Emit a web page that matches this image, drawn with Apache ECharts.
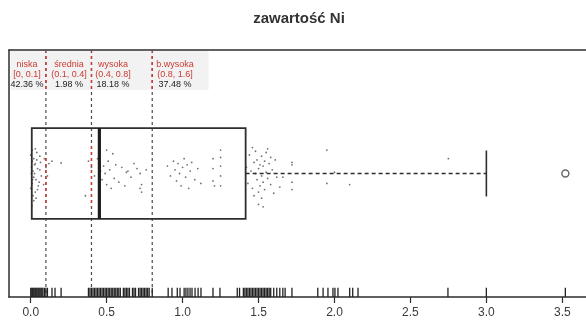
<!DOCTYPE html>
<html>
<head>
<meta charset="utf-8">
<script src="https://cdn.jsdelivr.net/npm/echarts@6/dist/echarts.min.js"></script>
<style>
  html, body { margin: 0; padding: 0; background: #fff; }
  #chart { width: 586px; height: 329px; }
</style>
</head>
<body>
<div id="chart"></div>
<script>
// ---- data ----
const chartTitle = 'zawartość Ni';
const tickValues = [0, 0.5, 1, 1.5, 2, 2.5, 3, 3.5];

const classNames = ['niska', 'średnia', 'wysoka', 'b.wysoka'];
const classRanges = ['[0, 0.1]', '(0.1, 0.4]', '(0.4, 0.8]', '(0.8, 1.6]'];
const classShares = [42.36, 1.98, 18.18, 37.48];
const classBreaks = [0.1, 0.4, 0.8];

// min, Q1, median, Q3, upper whisker end
const boxStats = [0.0, 0.007, 0.452, 1.415, 3.0];
const outliers = [3.52];

// distinct measured values (rug)
const rugValues = [
  0, 0.007, 0.013, 0.02, 0.027, 0.033, 0.04, 0.047, 0.053, 0.06, 0.067, 0.073, 0.08, 0.09, 0.1,
  0.11, 0.14, 0.16, 0.2,
  0.38, 0.39, 0.40, 0.41, 0.42, 0.43, 0.44, 0.45, 0.46, 0.47, 0.48,
  0.49, 0.50, 0.51, 0.52, 0.53, 0.54, 0.55, 0.56, 0.57, 0.58, 0.59,
  0.61, 0.62, 0.63, 0.64, 0.65, 0.67, 0.68, 0.69,
  0.71, 0.72, 0.73, 0.74, 0.75, 0.76, 0.77, 0.78,
  0.80, 0.905, 0.93, 0.965, 0.983, 1.01, 1.022, 1.035, 1.049, 1.062, 1.082, 1.102, 1.121,
  1.2, 1.246,
  1.36, 1.375, 1.40, 1.41, 1.42, 1.43, 1.44, 1.45, 1.46, 1.47, 1.48, 1.49, 1.50, 1.51,
  1.52, 1.53, 1.54, 1.55, 1.56, 1.57, 1.58, 1.60, 1.62,
  1.64, 1.66, 1.675, 1.72, 1.89, 1.925, 1.957, 1.99, 2.003, 2.023,
  2.10, 2.12, 2.155, 2.747, 3.0, 3.52
];

// observations with their vertical jitter
const jitterPoints = [
  [0.00, 0.15], [0.01, 0.10], [0.02, 0.12], [0.005, 0.05], [0.03, 0.08], [0.015, 0.02],
  [0.04, 0.11], [0.02, -0.03], [0.01, -0.08], [0.035, -0.05], [0.025, 0.00], [0.045, 0.04],
  [0.00, -0.12], [0.03, -0.15], [0.015, -0.18], [0.05, -0.10], [0.02, -0.22], [0.04, 0.17],
  [0.06, 0.03], [0.055, -0.07], [0.01, 0.19], [0.035, -0.20], [0.065, 0.09], [0.07, -0.02],
  [0.008, -0.26], [0.045, -0.13], [0.025, 0.07], [0.012, -0.05], [0.06, 0.14], [0.03, 0.20],
  [0.09, 0.12], [0.10, 0.05], [0.11, -0.02], [0.085, -0.09], [0.12, 0.08], [0.14, 0.10], [0.20, 0.085],
  [0.36, -0.18], [0.38, 0.10], [0.40, 0.05], [0.42, -0.02], [0.44, 0.12], [0.46, 0.02],
  [0.47, -0.05], [0.48, 0.06], [0.49, 0.00], [0.50, -0.09], [0.51, 0.10], [0.52, 0.03],
  [0.53, -0.12], [0.54, 0.16], [0.55, -0.04], [0.56, 0.07], [0.45, -0.15], [0.50, 0.19],
  [0.58, -0.07], [0.60, 0.05], [0.62, -0.10], [0.64, 0.02], [0.66, -0.03], [0.68, 0.08],
  [0.70, 0.04], [0.72, -0.12], [0.63, 0.01], [0.73, -0.09],
  [0.76, 0.03], [0.72, 0.00], [0.73, -0.15],
  [0.90, 0.06], [0.92, -0.02], [0.94, 0.10], [0.95, 0.03], [0.96, -0.06], [0.97, 0.08],
  [0.98, 0.00], [0.99, -0.10], [1.00, 0.05], [1.01, 0.12], [1.02, -0.03], [1.03, 0.07],
  [1.04, -0.12], [1.05, 0.02], [1.06, 0.09], [1.08, -0.05], [1.10, 0.04], [1.12, -0.08],
  [1.20, 0.12], [1.20, 0.04], [1.20, -0.06], [1.21, -0.10],
  [1.25, 0.19], [1.25, 0.13], [1.25, 0.06], [1.25, -0.02], [1.25, -0.10],
  [1.42, 0.05], [1.43, -0.08], [1.44, 0.15], [1.45, 0.02], [1.46, -0.12], [1.47, 0.09],
  [1.48, 0.00], [1.48, 0.18], [1.49, -0.05], [1.49, 0.11], [1.50, -0.15], [1.50, 0.04],
  [1.51, 0.07], [1.51, -0.10], [1.52, 0.14], [1.52, -0.02], [1.52, -0.20], [1.53, 0.06],
  [1.53, -0.07], [1.54, 0.10], [1.54, -0.13], [1.55, 0.01], [1.55, 0.17], [1.56, -0.04],
  [1.57, 0.08], [1.58, -0.09], [1.59, 0.03], [1.60, -0.16], [1.61, 0.11], [1.62, -0.03],
  [1.50, -0.25], [1.53, -0.27], [1.47, -0.18], [1.56, 0.20], [1.58, 0.13], [1.46, 0.21],
  [1.66, -0.03], [1.64, -0.11],
  [1.72, 0.09], [1.72, 0.07], [1.72, -0.07], [1.72, -0.13],
  [1.95, 0.19], [1.95, -0.08], [2.00, 0.01], [2.10, -0.09], [2.75, 0.12]
];

// ---- layout constants (y axis runs from -1 at the bottom to 1 at the top) ----
const BOX_HALF = 0.368;
const CAP_HALF = 0.186;
const RUG_LEN = 0.075;
const LABEL_CENTERS = [-0.024, 0.252, 0.542, 0.95];
const LABEL_ROWS = [0.879, 0.802, 0.722];
const RED_BANDS = { 0.1: [[0.984, 0.676], [0.15, -0.271]], 0.4: [[0.984, 0.676], [0.247, -0.271]], 0.8: [[0.984, 0.676]] };
const INK = '#2e2e2e';
const RED = '#cc3b33';
const FONT = '"Liberation Sans", Arial, sans-serif';

const chart = echarts.init(document.getElementById('chart'), null, { renderer: 'canvas' });

// frame: left, top and bottom edges only; the plot continues past the right edge
const frameLine = { show: true, onZero: false, lineStyle: { color: INK, width: 1.5 } };

chart.setOption({
  animation: false,
  backgroundColor: '#fff',
  graphic: [
    { type: 'rect', z: -1, shape: { x: 10.5, y: 51, width: 198, height: 39 }, style: { fill: '#f2f2f2' }, silent: true },
    { type: 'text', x: 299, y: 19, style: { text: chartTitle, font: 'bold 15px ' + FONT, fill: '#333', align: 'center', verticalAlign: 'middle' } }
  ],
  grid: { left: 9, top: 50, right: 0, height: 247, show: false },
  xAxis: [{
    type: 'value', min: -0.143, max: 3.656,
    axisLine: frameLine,
    axisTick: { show: true, customValues: tickValues, length: 6, inside: false, lineStyle: { color: INK, width: 1.2 } },
    axisLabel: { customValues: tickValues, formatter: v => v.toFixed(1), margin: 10, fontSize: 12, color: '#3a3a3a', fontFamily: FONT },
    splitLine: { show: false }
  }, {
    type: 'value', position: 'top', min: -0.143, max: 3.656,
    axisLine: frameLine, axisTick: { show: false }, axisLabel: { show: false }, splitLine: { show: false }
  }],
  yAxis: {
    type: 'value', min: -1, max: 1,
    axisLine: frameLine, axisTick: { show: false }, axisLabel: { show: false }, splitLine: { show: false }
  },
  series: [
    // class boundaries
    {
      type: 'custom', silent: true, z: 1,
      data: classBreaks.map(v => [v]),
      renderItem(params, api) {
        const v = api.value(0);
        const top = api.coord([v, 1]);
        const bot = api.coord([v, -1]);
        const children = [{
          type: 'line', shape: { x1: top[0], y1: top[1], x2: bot[0], y2: bot[1] },
          style: { stroke: '#4a4a4a', lineWidth: 1.2, lineDash: [3, 3] }
        }];
        (RED_BANDS[v] || []).forEach(([a, b]) => {
          const pa = api.coord([v, a]);
          const pb = api.coord([v, b]);
          children.push({
            type: 'line', shape: { x1: pa[0], y1: pa[1], x2: pb[0], y2: pb[1] },
            style: { stroke: RED, lineWidth: 1.4, lineDash: [3, 3], lineDashOffset: pa[1] - top[1] }
          });
        });
        return { type: 'group', children };
      }
    },
    // class labels and shares
    {
      type: 'custom', silent: true, z: 3,
      data: classNames.map((n, i) => [LABEL_CENTERS[i], i]),
      renderItem(params, api) {
        const i = api.value(1);
        const x = api.coord([api.value(0), 0])[0];
        const rows = [
          [classNames[i], RED], [classRanges[i], RED], [classShares[i].toFixed(2) + ' %', '#222']
        ];
        return {
          type: 'group',
          children: rows.map(([t, c], r) => ({
            type: 'text',
            style: { text: t, x, y: api.coord([0, LABEL_ROWS[r]])[1], fill: c, font: '9px ' + FONT, align: 'center', verticalAlign: 'middle' }
          }))
        };
      }
    },
    // rug
    {
      type: 'custom', silent: true, z: 2,
      data: rugValues.map(v => [v]),
      renderItem(params, api) {
        const v = api.value(0);
        const a = api.coord([v, -1]);
        const b = api.coord([v, -1 + RUG_LEN]);
        return { type: 'line', shape: { x1: a[0], y1: a[1], x2: b[0], y2: b[1] }, style: { stroke: '#222', lineWidth: 1.3 } };
      }
    },
    // jittered observations
    {
      type: 'scatter', silent: true, z: 2,
      data: jitterPoints,
      symbol: 'circle', symbolSize: 1.8,
      itemStyle: { color: '#5a5a5a', opacity: 0.85 }
    },
    // box and whiskers
    {
      type: 'custom', silent: true, z: 4,
      data: [boxStats],
      renderItem(params, api) {
        const [mn, q1, med, q3, mx] = [0, 1, 2, 3, 4].map(k => api.value(k));
        const tl = api.coord([q1, BOX_HALF]);
        const br = api.coord([q3, -BOX_HALF]);
        const mt = api.coord([med, BOX_HALF]);
        const mb = api.coord([med, -BOX_HALF]);
        const w1 = api.coord([q3, 0]);
        const w2 = api.coord([mx, 0]);
        const c1 = api.coord([mx, CAP_HALF]);
        const c2 = api.coord([mx, -CAP_HALF]);
        const l1 = api.coord([q1, 0]);
        const l2 = api.coord([mn, 0]);
        return {
          type: 'group',
          children: [
            { type: 'rect', shape: { x: tl[0], y: tl[1], width: br[0] - tl[0], height: br[1] - tl[1] }, style: { fill: 'none', stroke: INK, lineWidth: 1.8 } },
            { type: 'line', shape: { x1: mt[0], y1: mt[1], x2: mb[0], y2: mb[1] }, style: { stroke: '#1e1e1e', lineWidth: 3.2 } },
            { type: 'line', shape: { x1: w1[0], y1: w1[1], x2: w2[0], y2: w2[1] }, style: { stroke: INK, lineWidth: 1.5, lineDash: [4, 3] } },
            { type: 'line', shape: { x1: l1[0], y1: l1[1], x2: l2[0], y2: l2[1] }, style: { stroke: INK, lineWidth: 1.5, lineDash: [4, 3] } },
            { type: 'line', shape: { x1: c1[0], y1: c1[1], x2: c2[0], y2: c2[1] }, style: { stroke: INK, lineWidth: 1.6 } }
          ]
        };
      }
    },
    // outliers
    {
      type: 'scatter', silent: true, z: 4,
      data: outliers.map(v => [v, 0]),
      symbol: 'circle', symbolSize: 7,
      itemStyle: { color: 'rgba(255,255,255,0)', borderColor: '#444', borderWidth: 1.5 }
    }
  ]
});
</script>
</body>
</html>
